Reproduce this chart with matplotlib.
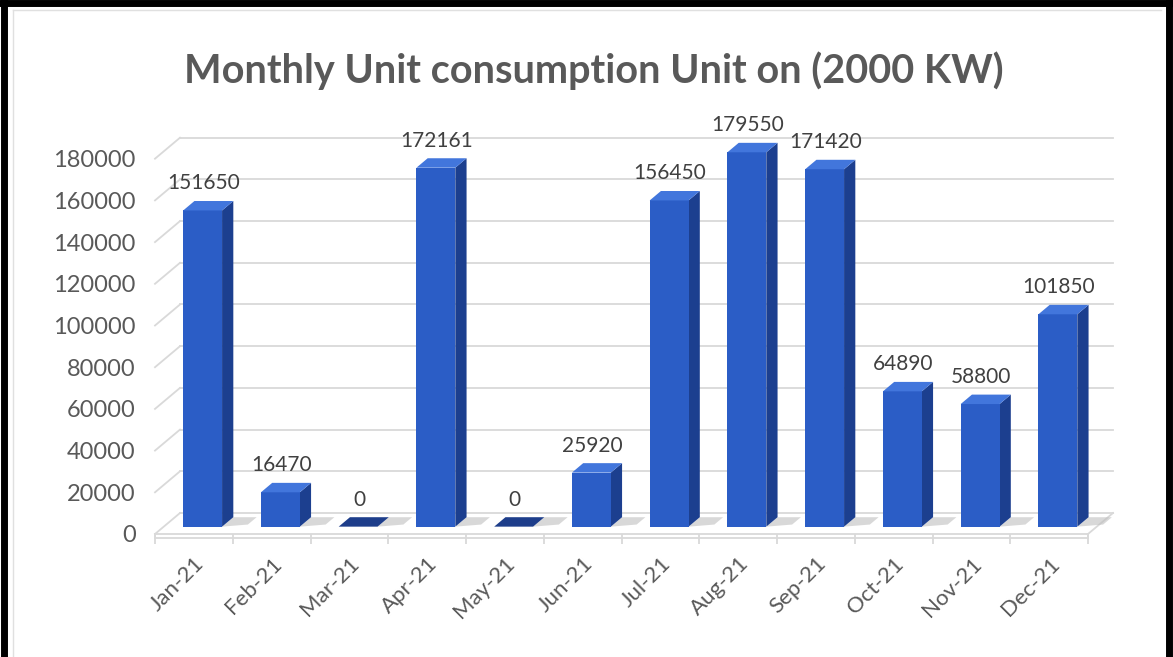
import matplotlib
matplotlib.use("Agg")
import matplotlib.pyplot as plt
from matplotlib.patches import Polygon
from matplotlib.transforms import IdentityTransform
from matplotlib.lines import Line2D

months = ['Jan-21', 'Feb-21', 'Mar-21', 'Apr-21', 'May-21', 'Jun-21',
          'Jul-21', 'Aug-21', 'Sep-21', 'Oct-21', 'Nov-21', 'Dec-21']
units = [151650, 16470, 0, 172161, 0, 25920,
         156450, 179550, 171420, 64890, 58800, 101850]
yticks = [0, 20000, 40000, 60000, 80000, 100000, 120000, 140000, 160000, 180000]

plt.rcParams['font.family'] = ['Lato', 'DejaVu Sans']
TXT = '#595959'
GRID = '#d9d9d9'

fig = plt.figure(figsize=(11.73, 6.57), dpi=100)
ax = fig.add_axes([155 / 1173, (657 - 534) / 657, 933 / 1173, 375.3 / 657])
ax.set_xlim(-0.5, 11.5)
ax.set_ylim(0, 180000)
for s in ax.spines.values():
    s.set_visible(False)
ax.patch.set_alpha(0)

# depth direction of the fake 3d floor (pixels)
DX, DY = 25, 21
ident = IdentityTransform()


def P(x, v, d):
    px, py = ax.transData.transform((x, v))
    return (px + d * DX, py + d * DY)


def seg(a, b, z=1):
    ax.add_line(Line2D([a[0], b[0]], [a[1], b[1]], transform=ident,
                       color=GRID, lw=1.3, zorder=z, clip_on=False))


def poly(pts, fc, z=3, alpha=1):
    ax.add_patch(Polygon(pts, closed=True, transform=ident, facecolor=fc,
                         edgecolor='none', alpha=alpha, zorder=z, clip_on=False))


# back wall gridlines + left wall edges
for v in yticks[1:]:
    seg(P(-0.5, v, 1), P(11.5, v, 1))
    seg(P(-0.5, v, 0), P(-0.5, v, 1))

# floor
a, b = P(-0.5, 0, 0), P(11.5, 0, 0)
c, d = P(11.5, 0, 1), P(-0.5, 0, 1)
seg(a, b); seg(b, c); seg(c, d); seg(d, a)
seg((a[0], a[1] - 4), (b[0], b[1] - 4))
seg(a, (a[0], a[1] - 4)); seg(b, (b[0], b[1] - 4))

# bars
W = 0.25
D0, D1 = 0.35, 0.8
for i, v in enumerate(units):
    h = v if v > 0 else 0
    # shadow on floor
    poly([P(i + W, 0, D0), P(i + W + 0.3, 0, D0 + 0.1), P(i + W + 0.3, 0, D1), P(i + W, 0, D1)],
         '#bfbfbf', z=2, alpha=0.6)
    front = [P(i - W, 0, D0), P(i + W, 0, D0), P(i + W, h, D0), P(i - W, h, D0)]
    side = [P(i + W, 0, D0), P(i + W, 0, D1), P(i + W, h, D1), P(i + W, h, D0)]
    top = [P(i - W, h, D0), P(i + W, h, D0), P(i + W, h, D1), P(i - W, h, D1)]
    poly(side, '#1c3f8f')
    poly(front, '#2b5dc6')
    poly(top, '#4276dc' if v > 0 else '#1d3d8a')
    ax.annotate(str(v), xy=(i, v), xytext=(D0 * DX + 1, D0 * DY + 21),
                textcoords='offset pixels', ha='center', va='baseline',
                fontsize=15, color='#404040', annotation_clip=False, zorder=5)

# axes ticks
ax.set_yticks(yticks)
ax.set_yticklabels([str(t) for t in yticks], fontsize=17, color=TXT)
ax.tick_params(axis='y', length=0, pad=14)
ax.set_xticks(range(12))
ax.set_xticklabels(months, rotation=45, ha='right', va='top',
                   rotation_mode='anchor', fontsize=16, color=TXT)
ax.tick_params(axis='x', which='major', length=0, pad=14)
ax.set_xticks([k - 0.5 for k in range(13)], minor=True)
ax.tick_params(axis='x', which='minor', length=7, color=GRID, width=1.3,
               direction='out')

fig.text(0.506, 0.893, 'Monthly Unit consumption Unit on (2000 KW)',
         ha='center', va='center', fontsize=28.5, fontweight='bold', color=TXT)

# black frame around the picture
for xs, ys in [([0.003, 0.003], [0, 1]), ([0, 1], [0.995, 0.995]),
               ([0.9965, 0.9965], [0, 1])]:
    fig.add_artist(Line2D(xs, ys, transform=fig.transFigure, color='black', lw=5))
fig.add_artist(Line2D([0.011, 0.011], [0, 0.985], transform=fig.transFigure,
                      color='#e0e0e0', lw=1))
fig.add_artist(Line2D([0.011, 0.99], [0.985, 0.985], transform=fig.transFigure,
                      color='#e0e0e0', lw=1))

fig.savefig('out.png', dpi=100)
